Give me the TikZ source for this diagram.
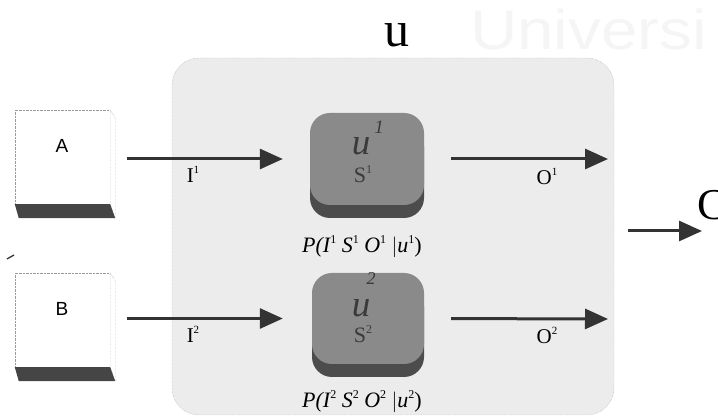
\documentclass[tikz,border=0pt]{standalone}
\usepackage{fontspec}
\setmainfont{Liberation Serif}
\newfontfamily\sansA{Liberation Sans}
\usetikzlibrary{arrows.meta,shadows,calc}
\definecolor{bigfill}{HTML}{ECECEC}
\definecolor{bigline}{HTML}{9A9A9A}
\definecolor{uface}{HTML}{8A8A8A}
\definecolor{uband}{HTML}{4C4C4C}
\definecolor{utext}{HTML}{3A3A3A}
\definecolor{arrcol}{HTML}{333333}
\definecolor{bandcol}{HTML}{454545}
\newcommand\mysup[2][11]{\raisebox{0.45em}{\fontsize{#1}{#1}\selectfont #2}}
\newcommand\fs[1]{\fontsize{#1}{#1}\selectfont}
\begin{document}
\begin{tikzpicture}[x=1pt,y=-1pt,
  bigbox/.style={draw=bigline, densely dotted, fill=bigfill, rounded corners=27pt, inner sep=0pt},
  facebox/.style={draw=bigline, densely dotted, fill=white, inner sep=0pt, minimum width=95pt, minimum height=94pt},
  sideface/.style={draw=bigline, densely dotted, fill=white},
  bandface/.style={fill=bandcol},
  ubox/.style={fill=uface, rounded corners=20pt, inner sep=0pt,
    general shadow={fill=uband, shadow xshift=0pt, shadow yshift=-13pt}},
  arr/.style={draw=arrcol, line width=3pt, -{Triangle[length=23pt,width=20pt]}},
  txt/.style={inner sep=0pt, anchor=base},
  utxt/.style={txt, text=utext}
]
\useasboundingbox (0,0) rectangle (718,419);
\clip (0,0) rectangle (718,419);
% watermark
\node[txt, anchor=base west, text=black!4] (wm) at (470,50) {\scalebox{1.17}[1]{\sansA\fs{56}Universi}};
% title
\node[txt] (title) at (397,47) {\fs{50}u};
% big box
\node[bigbox, minimum width=442pt, minimum height=357pt] (Ubox) at (393,236.5) {};
% boxes A and B
\foreach \n/\cy in {A/157, B/320} {
  \node[facebox] (\n) at (62.5,\cy) {};
  \filldraw[sideface] (\n.north east) -- ++(5,8) -- ($(\n.south east)+(5,14)$) -- (\n.south east) -- cycle;
  \fill[bandface] (\n.south west) -- (\n.south east) -- ++(5,14) -- ($(\n.south west)+(4,14)$) -- cycle;
}
\node[txt] (At) at (62,153) {\sansA\fs{19}A};
\node[txt] (Bt) at (62,316) {\sansA\fs{19}B};
% u nodes
\node[ubox, minimum width=114pt, minimum height=92pt] (u1) at (367,159) {};
\node[ubox, minimum width=112pt, minimum height=91pt] (u2) at (368,318.5) {};
\node[utxt] (u1u) at (361,155) {\fs{37}\itshape u};
\node[utxt] (u1n) at (379,134) {\fs{19}\itshape 1};
\node[utxt] (u1s) at (363,183) {\fs{22}S\mysup[12]{1}};
\node[utxt] (u2u) at (361,317) {\fs{37}\itshape u};
\node[utxt] (u2n) at (371,285) {\fs{18}\itshape 2};
\node[utxt] (u2s) at (363,343) {\fs{22}S\mysup[12]{2}};
\node[txt] (p1) at (362,253) {\fs{22}\itshape P(I\mysup[12]{\upshape 1} S\mysup[12]{\upshape 1} O\mysup[12]{\upshape 1} $|$u\mysup[12]{\upshape 1}\upshape)};
\node[txt] (p2) at (362,408) {\fs{22}\itshape P(I\mysup[12]{\upshape 2} S\mysup[12]{\upshape 2} O\mysup[12]{\upshape 2} $|$u\mysup[12]{\upshape 2}\upshape)};
% arrows
\coordinate (o1) at (608,159);
\coordinate (o2) at (608,319);
\draw[arr, shorten <=17pt, shorten >=27pt] (A.east |- u1.west) -- (u1.west);
\draw[arr, shorten <=17pt, shorten >=29pt] (B.east |- u2.west) -- (u2.west);
\draw[arr, shorten <=27pt] (u1.east) -- (o1);
\draw[arr, shorten <=27pt] (u2.east) -- (o2);
\node[txt] (i1) at (193,183) {\fs{21}I\mysup{1}};
\node[txt] (i2) at (193,343) {\fs{21}I\mysup{2}};
\node[txt] (l1) at (547,185) {\fs{21}O\mysup{1}};
\node[txt] (l2) at (547,344) {\fs{21}O\mysup{2}};
% output C
\coordinate (c0) at (628,231);
\coordinate (c1) at (702,231);
\draw[arr] (c0) -- (c1);
\node[txt, anchor=base west] (C) at (697,220) {\fs{44}C};
% stray mark
\coordinate (m0) at (7,259);
\coordinate (m1) at (14,255);
\draw[line width=1.3pt, arrcol] (m0) -- (m1);
\end{tikzpicture}
\end{document}
